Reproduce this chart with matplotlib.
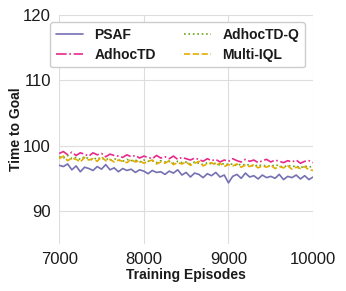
import numpy as np
import matplotlib
matplotlib.use('Agg')
import matplotlib.pyplot as plt
import seaborn as sns

episodes = np.arange(7000, 10001, 50)

psaf = [97.0, 96.8, 97.2, 96.3, 96.9, 96.0, 96.7, 96.5, 96.2, 96.8, 96.4, 97.1, 96.3, 96.6, 96.0, 96.5,
        96.2, 96.4, 95.9, 96.3, 96.1, 95.7, 96.2, 95.9, 96.0, 95.6, 96.1, 95.8, 96.3, 95.5, 95.9, 95.2,
        95.8, 95.6, 95.1, 95.7, 95.4, 95.9, 95.2, 95.5, 94.3, 95.3, 95.6, 95.0, 95.8, 95.2, 95.4, 94.9,
        95.5, 95.1, 95.3, 95.0, 95.6, 94.8, 95.3, 95.1, 95.5, 94.9, 95.4, 94.8, 95.2]
adhoctd = [98.8, 99.1, 98.6, 99.0, 98.5, 98.9, 98.7, 98.4, 98.9, 98.6, 98.8, 98.3, 98.7, 98.5, 98.4, 98.2,
           98.6, 98.3, 98.5, 98.1, 98.4, 98.2, 98.0, 98.5, 98.1, 98.3, 98.0, 98.4, 97.9, 98.2, 98.0, 97.8,
           98.1, 97.9, 97.6, 98.0, 97.7, 97.9, 97.5, 97.8, 97.6, 98.0, 97.7, 97.5, 97.9, 97.6, 97.8, 97.4,
           97.7, 97.9, 97.5, 97.8, 97.6, 97.4, 97.7, 97.5, 97.8, 97.3, 97.6, 97.7, 97.4]
adhoctd_q = [98.3, 98.1, 98.5, 98.0, 98.2, 97.9, 98.3, 98.0, 97.8, 98.2, 97.9, 98.1, 97.7, 98.0, 97.8, 97.6,
             97.9, 97.7, 97.8, 97.5, 97.8, 97.6, 97.7, 97.4, 97.7, 97.5, 97.6, 97.3, 97.6, 97.4, 97.5, 97.2,
             97.5, 97.3, 97.1, 97.4, 97.2, 97.3, 97.0, 97.3, 97.1, 97.2, 96.9, 97.2, 97.0, 97.1, 96.8, 97.1,
             96.9, 97.0, 96.8, 97.1, 96.9, 96.7, 97.0, 96.8, 96.9, 96.6, 96.9, 96.7, 96.9]
multi_iql = [98.0, 98.4, 97.7, 98.1, 97.9, 97.5, 98.2, 97.8, 98.0, 97.6, 98.3, 97.7, 97.9, 97.5, 97.8, 97.6,
             97.4, 97.9, 97.5, 97.7, 97.3, 97.6, 97.8, 97.2, 97.5, 97.3, 97.7, 97.1, 97.4, 97.2, 97.5, 97.0,
             97.3, 97.6, 96.9, 97.2, 97.4, 97.0, 97.3, 96.8, 97.1, 96.9, 97.2, 96.7, 97.0, 96.8, 97.1, 96.6,
             96.9, 96.7, 97.0, 96.5, 96.8, 96.6, 96.9, 96.4, 96.7, 96.5, 96.8, 96.3, 96.2]

sns.set_style('whitegrid')
plt.rcParams['font.family'] = ['Liberation Sans', 'DejaVu Sans']

fig = plt.figure(figsize=(3.46, 2.91), dpi=100)
ax = fig.add_axes([0.171, 0.163, 0.734, 0.785])

ax.plot(episodes, psaf, color='#7570b3', lw=1.2, ls='-', label='PSAF')
ax.plot(episodes, adhoctd, color='#e7298a', lw=1.2, ls='-.', label='AdhocTD')
ax.plot(episodes, adhoctd_q, color='#66a61e', lw=1.2, ls=':', label='AdhocTD-Q')
ax.plot(episodes, multi_iql, color='#e6ab02', lw=1.2, ls='--', label='Multi-IQL')

ax.set_xlim(7000, 10000)
ax.set_ylim(85, 120)
ax.set_xticks([7000, 8000, 9000, 10000])
ax.set_yticks([90, 100, 110, 120])
ax.tick_params(labelsize=12, length=0, pad=6, labelcolor='#1a1a1a')
ax.set_xlabel('Training Episodes', fontsize=10, fontweight='bold', labelpad=1, color='#1a1a1a')
ax.set_ylabel('Time to Goal', fontsize=10, fontweight='bold', labelpad=0, color='#1a1a1a')
for s in ax.spines.values():
    s.set_visible(False)
ax.grid(color='#dddddd', lw=0.8)

leg = ax.legend(loc='upper center', ncol=2, prop={'weight': 'bold', 'size': 10},
                handlelength=2.0, columnspacing=2.0, framealpha=1, edgecolor='#cccccc',
                bbox_to_anchor=(0.466, 0.97), borderaxespad=0, borderpad=0.4, labelspacing=0.45)
for t in leg.get_texts():
    t.set_color('#1a1a1a')

fig.savefig('out.png', dpi=100)
